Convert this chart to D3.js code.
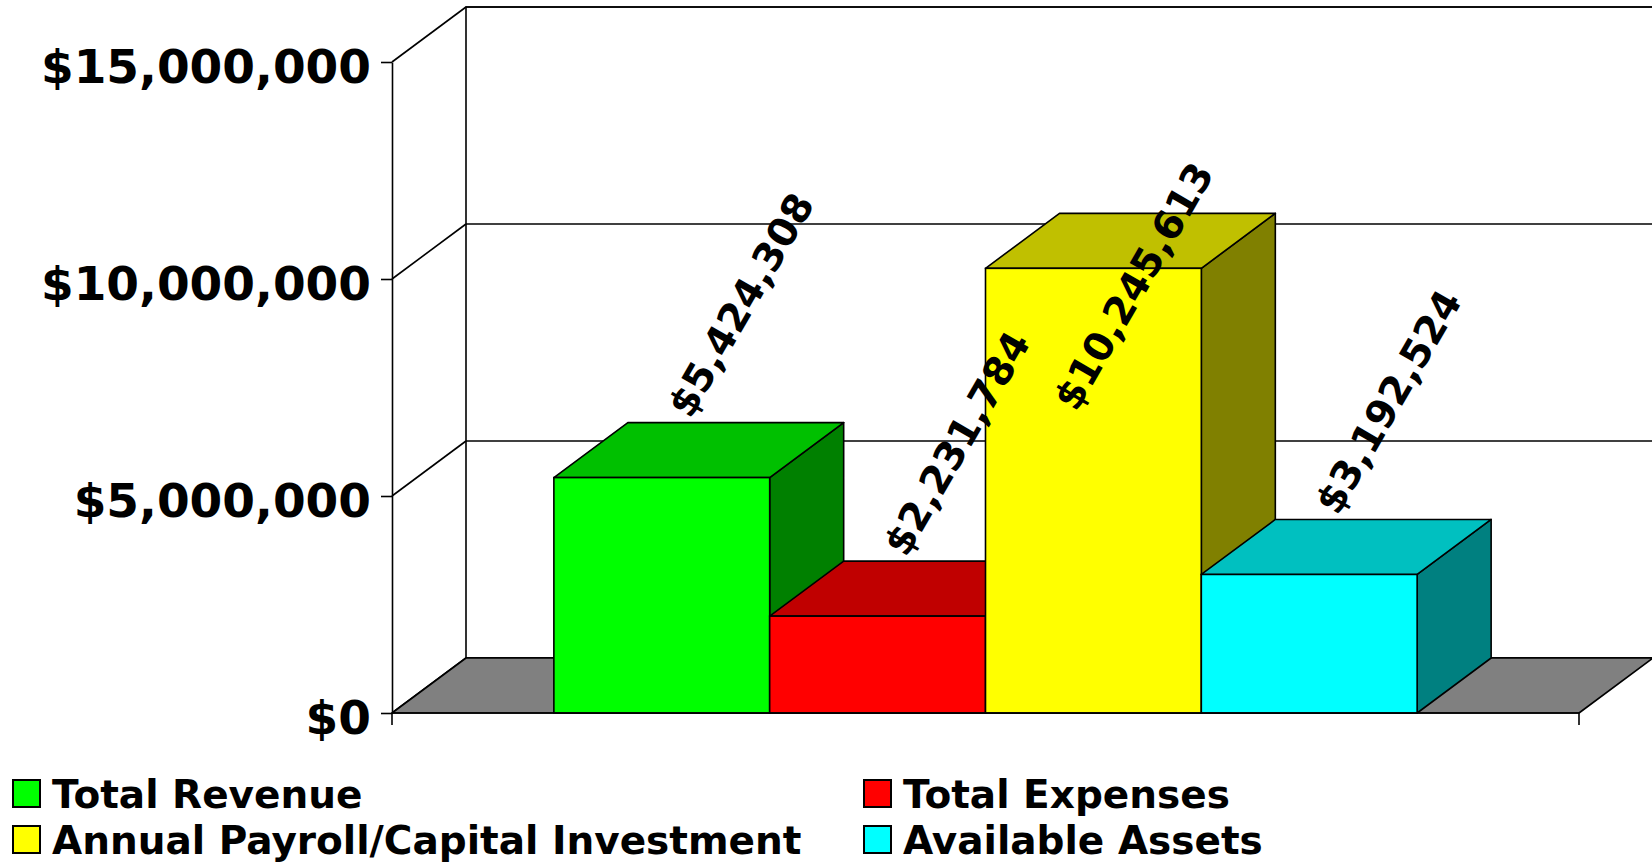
<!DOCTYPE html>
<html>
<head>
<meta charset="utf-8">
<script src="https://cdn.jsdelivr.net/npm/d3@7"></script>
<style>
  body { margin: 0; background: #fff; }
  text { font-family: "DejaVu Sans", Verdana, sans-serif; font-weight: bold; }
</style>
</head>
<body>
<div id="container"></div>
<script>
let w = 1652;
let h = 865;

// chart data
let categories = ["Total Revenue", "Total Expenses", "Annual Payroll/Capital Investment", "Available Assets"];
let values = [5424308, 2231784, 10245613, 3192524];
let yTicks = [0, 5000000, 10000000, 15000000];

// colours for the three visible faces of each box
let frontColors = ["#00ff00", "#ff0000", "#ffff00", "#00ffff"];
let topColors = ["#00c000", "#c00000", "#c0c000", "#00c0c0"];
let sideColors = ["#008000", "#800000", "#808000", "#008080"];

// depth of the 3d box (back plane offset)
let dx = 74;
let dy = 55;
let lw = 1.6;

let viz = d3.select("#container")
  .append("svg")
    .attr("width", w)
    .attr("height", h)
    .style("background-color", "white")
;

let xScale = d3.scaleBand()
  .domain(categories)
  .range([392, 1579])
  .paddingInner(0)
  .paddingOuter(0.75);

let yScale = d3.scaleLinear()
  .domain([0, 15000000])
  .range([713, 62]);

let x0 = xScale.range()[0];
let x1 = xScale.range()[1];
let y0 = yScale(0);
let yTop = yScale(yTicks[yTicks.length - 1]);

function pts(arr){
  return arr.map(function(p){ return p.join(","); }).join(" ");
}

// back wall
viz.append("polygon")
  .attr("points", pts([[x0 + dx, yTop - dy], [x1 + dx, yTop - dy], [x1 + dx, y0 - dy], [x0 + dx, y0 - dy]]))
  .attr("fill", "white")
  .attr("stroke", "black")
  .attr("stroke-width", lw);

// gridlines: back wall + left side wall
yTicks.forEach(function(t){
  let y = yScale(t);
  viz.append("line")
    .attr("x1", x0 + dx).attr("y1", y - dy)
    .attr("x2", x1 + dx).attr("y2", y - dy)
    .attr("stroke", "black").attr("stroke-width", lw);
  viz.append("line")
    .attr("x1", x0).attr("y1", y)
    .attr("x2", x0 + dx).attr("y2", y - dy)
    .attr("stroke", "black").attr("stroke-width", lw);
});

// floor
viz.append("polygon")
  .attr("points", pts([[x0, y0], [x1, y0], [x1 + dx, y0 - dy], [x0 + dx, y0 - dy]]))
  .attr("fill", "#808080")
  .attr("stroke", "black")
  .attr("stroke-width", lw)
  .attr("stroke-linejoin", "round");

// bars, left to right so that each front face hides the previous side face
let bw = xScale.bandwidth();
values.forEach(function(v, i){
  let x = xScale(categories[i]);
  let y = yScale(v);
  let g = viz.append("g").classed("bar", true);
  g.append("polygon")
    .attr("points", pts([[x + bw, y], [x + bw + dx, y - dy], [x + bw + dx, y0 - dy], [x + bw, y0]]))
    .attr("fill", sideColors[i]).attr("stroke", "black").attr("stroke-width", lw).attr("stroke-linejoin", "round");
  g.append("polygon")
    .attr("points", pts([[x, y], [x + bw, y], [x + bw + dx, y - dy], [x + dx, y - dy]]))
    .attr("fill", topColors[i]).attr("stroke", "black").attr("stroke-width", lw).attr("stroke-linejoin", "round");
  g.append("rect")
    .attr("x", x).attr("y", y)
    .attr("width", bw).attr("height", y0 - y)
    .attr("fill", frontColors[i]).attr("stroke", "black").attr("stroke-width", lw);
});

// category axis line + end ticks
viz.append("line")
  .attr("x1", x0).attr("y1", y0).attr("x2", x1).attr("y2", y0)
  .attr("stroke", "black").attr("stroke-width", lw);
[x0, x1].forEach(function(x){
  viz.append("line")
    .attr("x1", x).attr("y1", y0).attr("x2", x).attr("y2", y0 + 12)
    .attr("stroke", "black").attr("stroke-width", lw);
});

// value axis
let yAxis = d3.axisLeft(yScale)
  .tickValues(yTicks)
  .tickFormat(d3.format("$,"))
  .tickSize(11)
  .tickSizeOuter(0)
  .tickPadding(10);

let axisG = viz.append("g")
  .attr("transform", "translate(" + x0 + ",0)")
  .call(yAxis);
axisG.select(".domain").attr("stroke", "black").attr("stroke-width", lw);
axisG.selectAll(".tick line").attr("stroke", "black").attr("stroke-width", lw);
axisG.selectAll(".tick text")
  .attr("dy", "0.43em")
  .attr("fill", "black")
  .style("font-family", "'DejaVu Sans', Verdana, sans-serif")
  .style("font-weight", "bold")
  .style("font-size", "47px");

// data labels, rotated, sitting above the box and kept inside the chart
let labelTop = 158;
let angle = -60;
let fmt = d3.format("$,");
values.forEach(function(v, i){
  let x = xScale(categories[i]);
  let cx = x + bw / 2 + dx + 5;
  let cy = yScale(v) - dy - 118;
  let t = viz.append("text")
    .attr("text-anchor", "middle")
    .attr("dy", "0.36em")
    .attr("fill", "black")
    .style("font-size", "39.5px")
    .text(fmt(v));
  let len = t.node().getComputedTextLength();
  let half = (len * Math.sin(Math.PI / 3) + 31 * 0.5) / 2;
  if (cy - half < labelTop) {
    cy = labelTop + half;
    cx = cx - 39;
  }
  t.attr("transform", "translate(" + cx + "," + cy + ") rotate(" + angle + ")");
});

// legend
let legendX = [13, 864];
let legendY = [780, 826];
categories.forEach(function(c, i){
  let lx = legendX[i % 2];
  let ly = legendY[Math.floor(i / 2)];
  viz.append("rect")
    .attr("x", lx).attr("y", ly)
    .attr("width", 27).attr("height", 27)
    .attr("fill", frontColors[i])
    .attr("stroke", "black").attr("stroke-width", 2);
  viz.append("text")
    .attr("x", lx + 39).attr("y", ly + 28)
    .attr("fill", "black")
    .style("font-size", "39px")
    .text(c);
});
</script>
</body>
</html>
